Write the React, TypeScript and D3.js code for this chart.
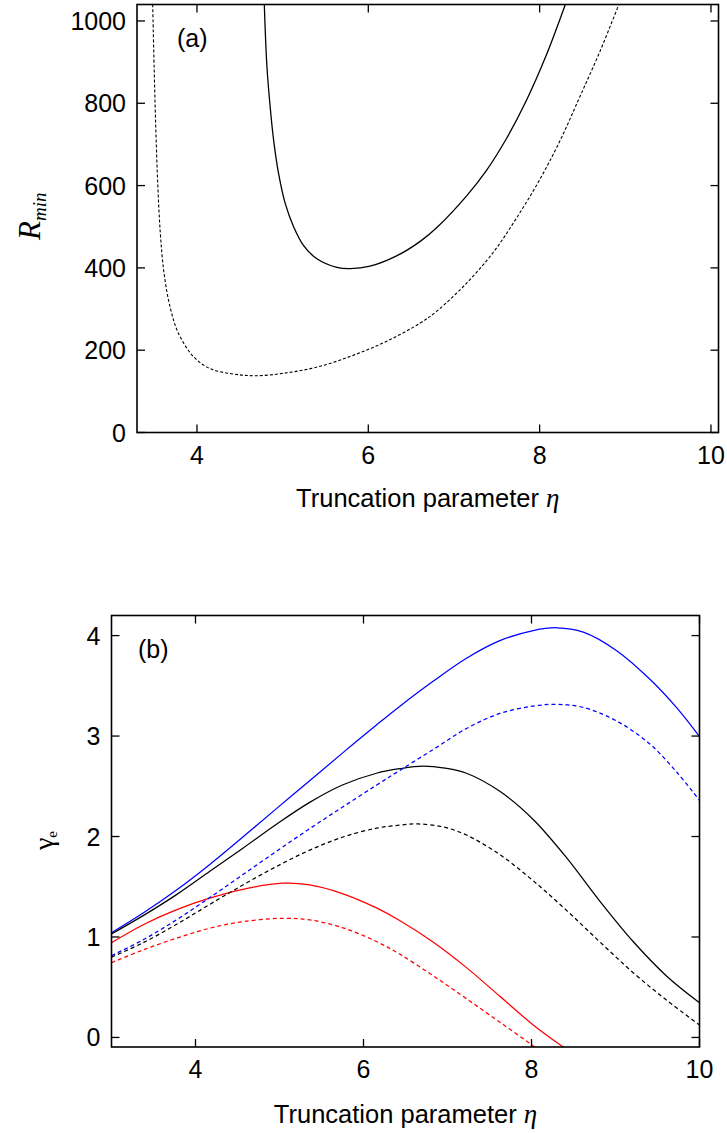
import * as d3 from "d3";
import React from "react";

// panel (a): R_min vs truncation parameter
const etaSolidA = [4.786, 4.817, 4.856, 4.895, 4.953, 5.031, 5.128, 5.245, 5.4, 5.634, 5.79, 6.02, 6.33, 6.61, 6.81, 7.148, 7.38, 7.615, 7.848, 8.082, 8.3];
const rSolidA = [1040, 888, 788, 710, 629, 556, 500, 454, 422, 401, 398, 404, 429, 465, 500, 575, 637, 715, 808, 919, 1040];
const etaDashA = [3.483, 3.5, 3.52, 3.543, 3.572, 3.615, 3.685, 3.786, 3.961, 4.155, 4.428, 4.7, 5.05, 5.44, 5.83, 6.218, 6.607, 6.8, 7.148, 7.46, 7.73, 8.0, 8.24, 8.47, 8.704, 8.925];
const rDashA = [1040, 888, 735, 600, 485, 388, 306, 240, 184, 155, 142, 138, 145, 161, 188, 222, 266, 295, 363, 438, 521, 614, 710, 816, 926, 1040];

// panel (b): gamma_e, solid and dashed for three cases
const etaBlueSolid = [3, 3.372, 3.77, 4.167, 4.564, 4.96, 5.359, 5.756, 6.154, 6.43, 6.828, 7.226, 7.623, 8.02, 8.3, 8.617, 9.014, 9.41, 9.73, 10];
const gBlueSolid = [1.043, 1.236, 1.465, 1.72, 1.995, 2.275, 2.555, 2.835, 3.11, 3.295, 3.545, 3.775, 3.95, 4.05, 4.078, 4.035, 3.85, 3.565, 3.28, 2.995];
const etaBlackSolid = [3, 3.372, 3.77, 4.167, 4.564, 4.96, 5.359, 5.756, 6.154, 6.43, 6.71, 6.97, 7.226, 7.623, 8.02, 8.417, 8.815, 9.21, 9.61, 10];
const gBlackSolid = [1.03, 1.21, 1.419, 1.651, 1.884, 2.12, 2.34, 2.515, 2.63, 2.675, 2.7, 2.68, 2.63, 2.45, 2.17, 1.79, 1.355, 0.955, 0.61, 0.345];
const etaRedSolid = [3, 3.372, 3.77, 4.167, 4.564, 5.04, 5.359, 5.756, 6.154, 6.43, 6.828, 7.226, 7.623, 8.02, 8.386];
const gRedSolid = [0.943, 1.12, 1.27, 1.386, 1.475, 1.535, 1.518, 1.43, 1.29, 1.165, 0.95, 0.695, 0.41, 0.125, -0.1];
const etaBlueDash = [3, 3.372, 3.77, 4.167, 4.564, 4.96, 5.359, 5.756, 6.154, 6.43, 6.828, 7.226, 7.623, 8.02, 8.3, 8.617, 9.014, 9.41, 9.73, 10];
const gBlueDash = [0.814, 0.97, 1.169, 1.391, 1.621, 1.851, 2.078, 2.296, 2.511, 2.657, 2.865, 3.075, 3.225, 3.298, 3.316, 3.285, 3.15, 2.92, 2.64, 2.36];
const etaBlackDash = [3, 3.372, 3.77, 4.167, 4.564, 4.96, 5.359, 5.756, 6.154, 6.43, 6.65, 6.95, 7.226, 7.623, 8.02, 8.417, 8.815, 9.21, 9.61, 10];
const gBlackDash = [0.8, 0.941, 1.124, 1.323, 1.518, 1.7, 1.864, 1.995, 2.083, 2.113, 2.125, 2.095, 2.015, 1.82, 1.56, 1.265, 0.95, 0.645, 0.37, 0.123];
const etaRedDash = [3, 3.372, 3.77, 4.167, 4.564, 5.04, 5.359, 5.756, 6.154, 6.43, 6.828, 7.226, 7.623, 8.02, 8.04];
const gRedDash = [0.744, 0.87, 0.987, 1.087, 1.153, 1.186, 1.17, 1.091, 0.955, 0.83, 0.615, 0.385, 0.152, -0.085, -0.1];

const xTicks = [4, 6, 8, 10];
const yTicksA = [0, 200, 400, 600, 800, 1000];
const yTicksB = [0, 1, 2, 3, 4];

const sans = "'Liberation Sans', Arial, sans-serif";
const serif = "'Liberation Serif', 'Times New Roman', serif";
const tickLen = 8;

const boxA = { left: 137, right: 718.5, top: 4.5, bottom: 432.5 };
const boxB = { left: 111.5, right: 699.5, top: 615.5, bottom: 1047 };

const xA = d3.scaleLinear().domain([3.3, 10.088]).range([boxA.left, boxA.right]);
const yA = d3.scaleLinear().domain([0, 1040]).range([boxA.bottom, boxA.top]);
const xB = d3.scaleLinear().domain([3, 10]).range([boxB.left, boxB.right]);
const yB = d3.scaleLinear().domain([-0.095, 4.2]).range([boxB.bottom, boxB.top]);

const zip = (xs: number[], ys: number[]) => xs.map((x, i) => [x, ys[i]] as [number, number]);

const Axes = ({ box, x, y, yTicks }: any) => (
	<g stroke="#000" strokeWidth={1.3}>
		{xTicks.map((t) => (
			<g key={"x" + t}>
				<line x1={x(t)} x2={x(t)} y1={box.bottom} y2={box.bottom - tickLen} />
				<line x1={x(t)} x2={x(t)} y1={box.top} y2={box.top + tickLen} />
				<text x={x(t)} y={box.bottom + 31} textAnchor="middle" stroke="none" fill="#000" fontFamily={sans} fontSize={25}>
					{t}
				</text>
			</g>
		))}
		{yTicks.map((t: number) => (
			<g key={"y" + t}>
				<line x1={box.left} x2={box.left + tickLen} y1={y(t)} y2={y(t)} />
				<line x1={box.right} x2={box.right - tickLen} y1={y(t)} y2={y(t)} />
				<text x={box.left - 11} y={y(t) + 9} textAnchor="end" stroke="none" fill="#000" fontFamily={sans} fontSize={25}>
					{t}
				</text>
			</g>
		))}
		<rect x={box.left} y={box.top} width={box.right - box.left} height={box.bottom - box.top} fill="none" strokeWidth={1.6} />
	</g>
);

const App = () => {
	const lineA = d3
		.line<[number, number]>()
		.x((d) => xA(d[0]))
		.y((d) => yA(d[1]))
		.curve(d3.curveCatmullRom.alpha(0.5));
	const lineB = d3
		.line<[number, number]>()
		.x((d) => xB(d[0]))
		.y((d) => yB(d[1]))
		.curve(d3.curveCatmullRom.alpha(0.5));

	const seriesB = [
		{ eta: etaBlueSolid, g: gBlueSolid, color: "#0000ff", dash: "none" },
		{ eta: etaBlackSolid, g: gBlackSolid, color: "#000", dash: "none" },
		{ eta: etaRedSolid, g: gRedSolid, color: "#ff0000", dash: "none" },
		{ eta: etaBlueDash, g: gBlueDash, color: "#0000ff", dash: "4,3" },
		{ eta: etaBlackDash, g: gBlackDash, color: "#000", dash: "4,3" },
		{ eta: etaRedDash, g: gRedDash, color: "#ff0000", dash: "4,3" },
	];

	return (
		<svg width={727} height={1133} style={{ position: "absolute", left: 0, top: 0, background: "#fff" }}>
			<defs>
				<clipPath id="clipA">
					<rect x={boxA.left} y={boxA.top} width={boxA.right - boxA.left} height={boxA.bottom - boxA.top} />
				</clipPath>
				<clipPath id="clipB">
					<rect x={boxB.left} y={boxB.top} width={boxB.right - boxB.left} height={boxB.bottom - boxB.top} />
				</clipPath>
			</defs>

			{/* panel (a) */}
			<g clipPath="url(#clipA)" fill="none" stroke="#000" strokeWidth={1.3}>
				<path d={lineA(zip(etaSolidA, rSolidA)) || ""} />
				<path d={lineA(zip(etaDashA, rDashA)) || ""} strokeDasharray="3,2" strokeWidth={1.1} />
			</g>
			<Axes box={boxA} x={xA} y={yA} yTicks={yTicksA} />
			<text x={177} y={47} fontFamily={sans} fontSize={25}>(a)</text>
			<text transform="translate(40,240) rotate(-90)" fontFamily={serif} fontStyle="italic">
				<tspan fontSize={31}>R</tspan>
				<tspan fontSize={19} dy={6}>min</tspan>
			</text>
			<text x={(boxA.left + boxA.right) / 2} y={507} textAnchor="middle" fontFamily={sans} fontSize={25.5}>
				Truncation parameter <tspan fontFamily={serif} fontStyle="italic" fontSize={27}>η</tspan>
			</text>

			{/* panel (b) */}
			<g clipPath="url(#clipB)" fill="none" strokeWidth={1.25}>
				{seriesB.map((s, i) => (
					<path key={i} d={lineB(zip(s.eta, s.g)) || ""} stroke={s.color} strokeDasharray={s.dash} />
				))}
			</g>
			<Axes box={boxB} x={xB} y={yB} yTicks={yTicksB} />
			<text x={138} y={658} fontFamily={sans} fontSize={25}>(b)</text>
			<text transform="translate(53,850) rotate(-90)" fontFamily={serif}>
				<tspan fontSize={28}>γ</tspan>
				<tspan fontSize={15} dy={4}>e</tspan>
			</text>
			<text x={(boxB.left + boxB.right) / 2} y={1123} textAnchor="middle" fontFamily={sans} fontSize={25.5}>
				Truncation parameter <tspan fontFamily={serif} fontStyle="italic" fontSize={27}>η</tspan>
			</text>
		</svg>
	);
};

export default App;
